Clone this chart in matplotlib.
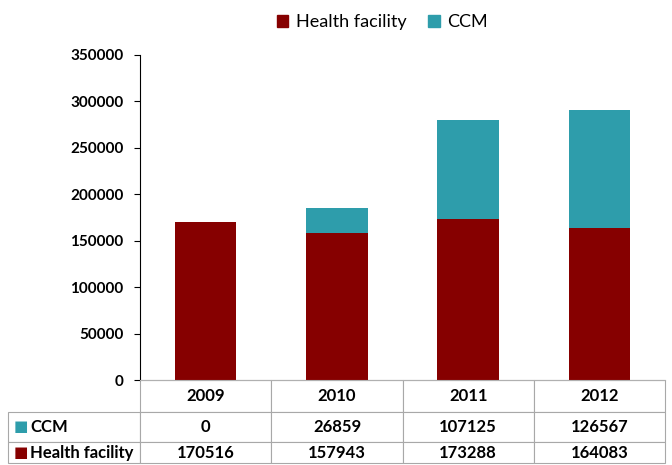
import matplotlib
matplotlib.use("Agg")
import matplotlib.pyplot as plt
from matplotlib.patches import Patch

years = ["2009", "2010", "2011", "2012"]
health_facility = [170516, 157943, 173288, 164083]
ccm = [0, 26859, 107125, 126567]

red = "#860000"
teal = "#2E9DAB"
plt.rcParams['font.family'] = ['Lato', 'DejaVu Sans']

fig = plt.figure(figsize=(6.72, 4.65), dpi=100)
ax = fig.add_axes([140/672, 1-380/465, 525/672, 325/465])

x = list(range(len(years)))
ax.bar(x, health_facility, width=0.47, color=red, zorder=2)
ax.bar(x, ccm, width=0.47, bottom=health_facility, color=teal, zorder=2)

ax.set_xlim(-0.5, 3.5)
ax.set_ylim(0, 350000)
ax.set_yticks(range(0, 350001, 50000))
ax.tick_params(axis='y', labelsize=11, length=4, direction='out', pad=8)
for t in ax.get_yticklabels():
    t.set_fontweight('bold')
ax.set_xticks([])
for s in ['top', 'right']:
    ax.spines[s].set_visible(False)
ax.spines['bottom'].set_color('#b0b0b0')
ax.spines['left'].set_color('black')

# data table under the bars
cell_text = [[''] + years,
             ['CCM'] + [str(v) for v in ccm],
             ['Health facility'] + [str(v) for v in health_facility]]
lab_w = 132/525
tb = ax.table(cellText=cell_text, cellLoc='center',
              colWidths=[132] + [131]*4,
              bbox=[-lab_w, -83/325, 1 + lab_w, 83/325])
tb.auto_set_font_size(False)
heights = [32, 30, 21]
for (r, c), cell in tb.get_celld().items():
    cell.set_height(heights[r])
    cell.set_edgecolor('#a8a8a8')
    cell.set_linewidth(0.8)
    cell.get_text().set_fontweight('bold')
    cell.get_text().set_fontsize(12)
    if c == 0:
        cell.get_text().set_ha('left')
        cell._loc = 'left'
        cell.PAD = 0.17
tb[(0, 0)].visible_edges = ''

# colour keys in the row labels
ax.text(-lab_w + 0.01, (380-427)/325, '■', color=teal, fontsize=11,
        transform=ax.transAxes, va='center', ha='left', clip_on=False)
ax.text(-lab_w + 0.01, (380-453)/325, '■', color=red, fontsize=11,
        transform=ax.transAxes, va='center', ha='left', clip_on=False)

handles = [Patch(color=red, label='Health facility'), Patch(color=teal, label='CCM')]
fig.legend(handles=handles, loc='center', bbox_to_anchor=(382/672, 1-22/465),
           ncol=2, frameon=False, fontsize=13, handlelength=0.65, handleheight=0.65,
           handletextpad=0.4, columnspacing=1.2)

fig.savefig("out.png", dpi=100)
